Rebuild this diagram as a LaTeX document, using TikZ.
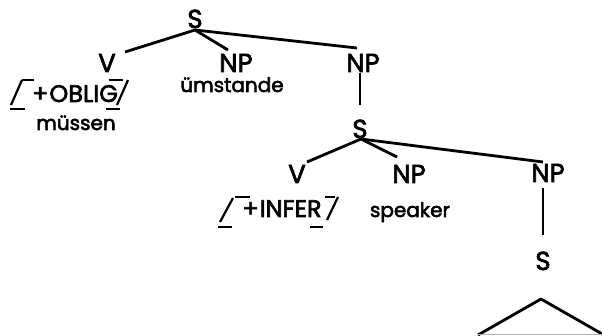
\documentclass[tikz,border=0pt]{standalone}
\usepackage{fontspec}
\setmainfont{Poppins}[FakeBold=2.6]
\begin{document}
\begin{tikzpicture}[x=1pt,y=-1pt,
  cat/.style={inner sep=0pt,anchor=base,font=\fontsize{26}{26}\selectfont},
  word/.style={inner sep=0pt,anchor=base,font=\fontsize{20}{20}\selectfont},
  feat/.style={inner sep=0pt,anchor=base,font=\fontsize{24}{24}\selectfont},
  branch/.style={line width=2.8pt},
  brk/.style={line width=2.2pt}]
\useasboundingbox (0,0) rectangle (602,336);
% top level
\node[cat] (S1) at (195,28) {S};
\node[cat] (V1) at (107,72) {V};
\node[cat] (NP1) at (236,72) {NP};
\node[word] (w1) at (232,92) {ümstande};
\node[cat] (NP2) at (363,72) {NP};
\node[feat] (f1) at (75,102) {+\kern1pt OBLIG};
\node[word] (w2) at (76,130) {müssen};
% second level
\node[cat] (S2) at (360,138) {S};
\node[cat] (V2) at (297,183) {V};
\node[cat] (NP3) at (409,183) {NP};
\node[word] (w3) at (410,217) {speaker};
\node[cat] (NP4) at (548,182) {NP};
\node[feat] (f2) at (282,217) {+\kern1pt INFER};
\node[cat] (S3) at (543,270) {S};
% connector ends
\coordinate (S1b) at (195,30);
\coordinate (V1t) at (125,52);
\coordinate (NP1t) at (228,50);
\coordinate (NP2t) at (357,48);
\coordinate (NP2b) at (360,73);
\coordinate (S2t) at (360,105);
\coordinate (S2b) at (361,139);
\coordinate (V2t) at (307,162);
\coordinate (NP3t) at (397,157);
\coordinate (NP4t) at (543,162);
\coordinate (NP4b) at (543,188);
\coordinate (S3t) at (543,235);
\coordinate (T) at (541,299);
\coordinate (TL) at (478,335);
\coordinate (TR) at (604,335);
\draw[branch] (V1t) -- (S1b) -- (NP1t);
\draw[branch] (S1b) -- (NP2t);
\draw[branch] (NP2b) -- (S2t);
\draw[branch] (V2t) -- (S2b) -- (NP3t);
\draw[branch] (S2b) -- (NP4t);
\draw[branch] (NP4b) -- (S3t);
\draw[branch,line join=round] (TL) -- (T) -- (TR);
\draw[line width=1pt,gray!60] (TL) -- (TR);
% brackets OBLIG
\draw[brk] (11,105) -- (22,80);
\draw[brk] (22,80) -- (34,80);
\draw[brk] (10,109) -- (25,109);
\draw[brk] (128,80) -- (117,105);
\draw[brk] (109,80) -- (123,80);
\draw[brk] (106,109) -- (120,109);
% brackets INFER
\draw[brk] (220,222) -- (233,198);
\draw[brk] (235,197) -- (250,197);
\draw[brk] (218,227) -- (232,227);
\draw[brk] (338,197) -- (327,220);
\draw[brk] (325,197) -- (335,197);
\draw[brk] (310,227) -- (323,227);
\end{tikzpicture}
\end{document}
